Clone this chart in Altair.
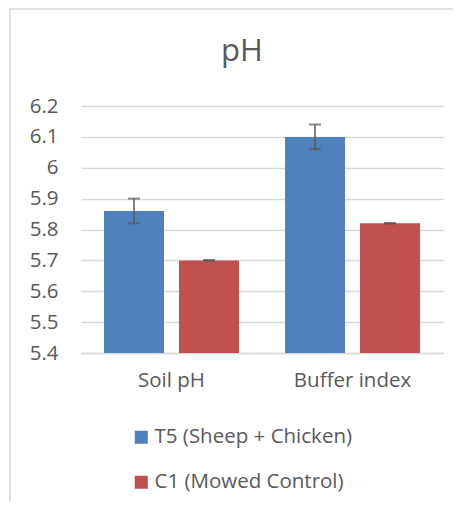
import altair as alt
import pandas as pd

categories = ["Soil pH", "Soil pH", "Buffer index", "Buffer index"]
groups = ["T5 (Sheep + Chicken)", "C1 (Mowed Control)", "T5 (Sheep + Chicken)", "C1 (Mowed Control)"]
values = [5.86, 5.70, 6.10, 5.82]
errors = [0.04, 0.001, 0.04, 0.001]

cat_order = ["Soil pH", "Buffer index"]
grp_order = ["T5 (Sheep + Chicken)", "C1 (Mowed Control)"]
colors = ["#4f81bd", "#c0504d"]
y_ticks = [5.4, 5.5, 5.6, 5.7, 5.8, 5.9, 6.0, 6.1, 6.2]

df = pd.DataFrame({"cat": categories, "grp": groups, "val": values, "err": errors})
df["lo"] = df["val"] - df["err"]
df["hi"] = df["val"] + df["err"]

FONT = "Open Sans"
TXT = "#595959"
FS = 20.5

x_axis = alt.Axis(labelAngle=0, ticks=False, domain=True, domainColor="#d9d9d9",
                  domainWidth=1.5, labelPadding=17, labelFontSize=FS,
                  labelColor=TXT, labelFont=FONT)
y_axis = alt.Axis(values=y_ticks,
                  labelExpr="datum.value == 6 ? '6' : format(datum.value, '.1f')",
                  ticks=False, domain=False, grid=True, gridColor="#d9d9d9",
                  gridWidth=1.5, labelPadding=23, labelFontSize=FS, labelOverlap=False,
                  labelColor=TXT, labelFont=FONT)
x_enc = alt.X("cat:N", sort=cat_order, title=None,
              scale=alt.Scale(paddingInner=0, paddingOuter=0), axis=x_axis)
xo_enc = alt.XOffset("grp:N", sort=grp_order,
                     scale=alt.Scale(paddingInner=0.2, paddingOuter=0.307))
y_scale = alt.Scale(domain=[5.4, 6.2], nice=False, zero=False)

bars = alt.Chart(df).mark_bar(clip=True).encode(
    x=x_enc,
    xOffset=xo_enc,
    y=alt.Y("val:Q", scale=y_scale, title=None, axis=y_axis),
    y2=alt.datum(5.4),
    color=alt.Color("grp:N", sort=grp_order, scale=alt.Scale(domain=grp_order, range=colors),
                    legend=alt.Legend(title=None, orient="none", legendX=50, legendY=321,
                                      symbolType="square", symbolSize=169, symbolStrokeWidth=0,
                                      labelFontSize=FS, labelColor=TXT, labelFont=FONT,
                                      labelLimit=400,
                                      rowPadding=24, symbolOffset=0, labelOffset=3,
                                      direction="vertical")),
)

rules = alt.Chart(df).mark_rule(color="#595959", strokeWidth=1.5).encode(
    x=x_enc,
    xOffset=xo_enc,
    y=alt.Y("lo:Q", scale=y_scale, title=None, axis=y_axis),
    y2="hi:Q",
)
caps_hi = alt.Chart(df).mark_tick(color="#595959", thickness=2, size=12).encode(
    x=x_enc,
    xOffset=xo_enc,
    y=alt.Y("hi:Q", scale=y_scale, title=None, axis=y_axis),
)
caps_lo = alt.Chart(df).mark_tick(color="#595959", thickness=2, size=12).encode(
    x=x_enc,
    xOffset=xo_enc,
    y=alt.Y("lo:Q", scale=y_scale, title=None, axis=y_axis),
)

border = alt.Chart(pd.DataFrame({"a": [0]})).mark_rect(
    fill=None, stroke="#d9d9d9", strokeWidth=1.5, clip=False
).encode(x=alt.value(-71), x2=alt.value(420), y=alt.value(-97), y2=alt.value(450))

title = alt.Chart(pd.DataFrame({"t": ["pH"]})).mark_text(
    font=FONT, fontSize=31, color=TXT, align="center", baseline="middle"
).encode(text="t:N", x=alt.value(161), y=alt.value(-54))

chart = alt.layer(border, bars, rules, caps_hi, caps_lo, title).properties(
    width=362, height=247,
    padding={"left": 73, "top": 98, "right": 10, "bottom": 149},
    autosize=alt.AutoSizeParams(type="none"),
).configure_view(stroke=None)

chart.save("out.html", embed_options={"renderer": "svg", "actions": False})
